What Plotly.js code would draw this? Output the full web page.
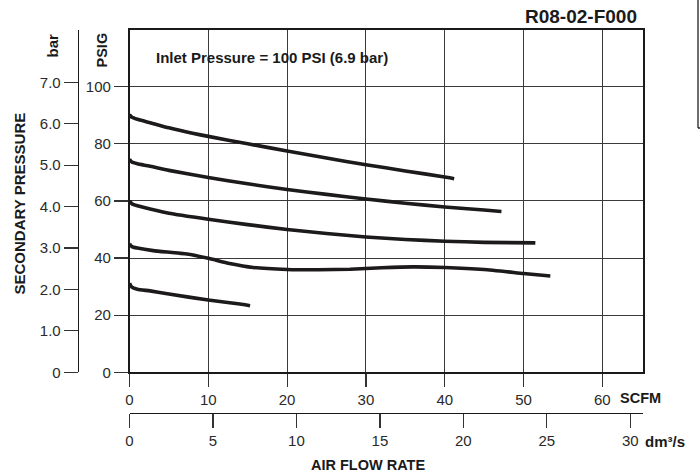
<!DOCTYPE html>
<html>
<head>
<meta charset="utf-8">
<script src="https://cdn.plot.ly/plotly-3.0.1.min.js"></script>
<style>html,body{margin:0;padding:0;background:#fff;}#chart{width:700px;height:473px;}</style>
</head>
<body>
<div id="chart"></div>
<script>
// Air flow (SCFM) and secondary pressure (PSIG) for each regulator setting
const scfm1 = [0, 0.3, 1, 2.5, 5, 8, 10, 15, 20, 25, 30, 35, 40, 41.2];
const psig1 = [90.2, 89.3, 88.6, 87.5, 85.6, 83.7, 82.6, 80.0, 77.5, 75.0, 72.7, 70.5, 68.4, 67.8];

const scfm2 = [0, 0.3, 1, 2.5, 5, 10, 15, 20, 25, 30, 35, 40, 45, 47.2];
const psig2 = [74.6, 73.6, 73.0, 72.2, 70.7, 68.2, 66.0, 64.0, 62.3, 60.7, 59.2, 57.9, 56.8, 56.3];

const scfm3 = [0, 0.3, 1, 2.5, 5, 10, 15, 20, 25, 30, 35, 40, 45, 51.5];
const psig3 = [60.0, 59.0, 58.3, 57.3, 55.7, 53.6, 51.7, 50.0, 48.6, 47.4, 46.5, 45.9, 45.5, 45.3];

const scfm4 = [0, 0.3, 1, 3, 7.3, 10, 12.7, 15.7, 20, 24, 28, 32, 36, 40, 45, 50, 53.4];
const psig4 = [45.0, 44.0, 43.5, 42.6, 41.4, 39.9, 38.1, 36.7, 36.0, 35.9, 36.1, 36.6, 36.9, 36.7, 36.0, 34.6, 33.7];

const scfm5 = [0, 0.3, 1, 2.6, 5, 10, 14, 15.3];
const psig5 = [31.2, 29.8, 29.1, 28.5, 27.4, 25.3, 23.9, 23.3];

// Tick labels
const scfmTicks = [0, 10, 20, 30, 40, 50, 60];
const dm3Ticks = [0, 5, 10, 15, 20, 25, 30];
const psigTicks = [0, 20, 40, 60, 80, 100];
const barTicks = [0, 1, 2, 3, 4, 5, 6, 7];
const barTickText = ["0", "1.0", "2.0", "3.0", "4.0", "5.0", "6.0", "7.0"];

const FONT = "Liberation Sans, Arial, sans-serif";
const curveStyle = {color: "#1c1a1a", width: 3.6, shape: "spline", smoothing: 0.5};

const series = [[scfm1, psig1], [scfm2, psig2], [scfm3, psig3], [scfm4, psig4], [scfm5, psig5]];
const traces = series.map(s => ({
  x: s[0], y: s[1], type: "scatter", mode: "lines",
  line: curveStyle, hoverinfo: "skip", showlegend: false, xaxis: "x", yaxis: "y"
}));
// empty trace so the secondary axes exist
traces.push({x: [], y: [], type: "scatter", mode: "lines", xaxis: "x2", yaxis: "y2", showlegend: false});

const xd = [0.10384, 1];
const tickFont = {family: FONT, size: 15, color: "#2a2a2a"};

const layout = {
  width: 700, height: 473,
  margin: {l: 70, r: 57, t: 30, b: 30},
  paper_bgcolor: "#fff", plot_bgcolor: "#fff",
  font: {family: FONT, color: "#1a1a1a"},
  showlegend: false,
  xaxis: {
    domain: xd, range: [0, 65.16], anchor: "y",
    tickvals: scfmTicks, ticks: "outside", ticklen: 13, tickwidth: 1.2, tickcolor: "#333",
    showline: true, mirror: true, linecolor: "#1a1a1a", linewidth: 1.6,
    showgrid: true, gridcolor: "#3a3a3a", gridwidth: 1.1, zeroline: false,
    tickfont: tickFont, fixedrange: true
  },
  yaxis: {
    domain: [0.17119, 1], range: [0, 119.85], anchor: "x",
    tickvals: psigTicks, ticks: "outside", ticklen: 14, tickwidth: 1.2, tickcolor: "#333",
    showline: true, mirror: true, linecolor: "#1a1a1a", linewidth: 1.6,
    showgrid: true, gridcolor: "#3a3a3a", gridwidth: 1.1, zeroline: false,
    tickfont: tickFont, fixedrange: true
  },
  xaxis2: {
    overlaying: "x", anchor: "free", position: 0.0734, side: "bottom",
    domain: xd, range: [0, 30.76],
    tickvals: dm3Ticks, ticks: "outside", ticklen: 14, tickwidth: 1.2, tickcolor: "#333",
    showline: true, linecolor: "#1a1a1a", linewidth: 1.6,
    showgrid: false, zeroline: false, tickfont: tickFont, fixedrange: true
  },
  yaxis2: {
    overlaying: "y", anchor: "free", position: 0.01344, side: "left",
    range: [0, 8.263],
    tickvals: barTicks, ticktext: barTickText, ticks: "outside", ticklen: 14, tickwidth: 1.2, tickcolor: "#333",
    showline: true, linecolor: "#1a1a1a", linewidth: 1.6,
    showgrid: false, zeroline: false, tickfont: tickFont, fixedrange: true
  },
  annotations: [
    {text: "<b>R08-02-F000</b>", xref: "paper", yref: "paper", x: 0.993, y: 1.032, xanchor: "right", yanchor: "middle", showarrow: false, font: {family: FONT, size: 19, color: "#1a1a1a"}},
    {text: "<b>Inlet Pressure = 100 PSI (6.9 bar)</b>", xref: "paper", yref: "paper", x: 0.1466, y: 0.9346, xanchor: "left", yanchor: "middle", showarrow: false, font: {family: FONT, size: 15, color: "#1a1a1a"}},
    {text: "<b>PSIG</b>", xref: "paper", yref: "paper", x: 0.0567, y: 0.9516, textangle: -90, xanchor: "center", yanchor: "middle", showarrow: false, font: {family: FONT, size: 14.5, color: "#1a1a1a"}},
    {text: "<b>bar</b>", xref: "paper", yref: "paper", x: -0.0305, y: 0.9613, textangle: -90, xanchor: "center", yanchor: "middle", showarrow: false, font: {family: FONT, size: 15, color: "#1a1a1a"}},
    {text: "<b>SECONDARY PRESSURE</b>", xref: "paper", yref: "paper", x: -0.0873, y: 0.5799, textangle: -90, xanchor: "center", yanchor: "middle", showarrow: false, font: {family: FONT, size: 15, color: "#1a1a1a"}},
    {text: "<b>SCFM</b>", xref: "paper", yref: "paper", x: 0.9569, y: 0.109, xanchor: "left", yanchor: "middle", showarrow: false, font: {family: FONT, size: 14.5, color: "#1a1a1a"}},
    {text: "<b>dm³/s</b>", xref: "paper", yref: "paper", x: 0.9995, y: 0.0048, xanchor: "left", yanchor: "middle", showarrow: false, font: {family: FONT, size: 15, color: "#1a1a1a"}},
    {text: "<b>AIR FLOW RATE</b>", xref: "paper", yref: "paper", x: 0.5206, y: -0.0533, xanchor: "center", yanchor: "middle", showarrow: false, font: {family: FONT, size: 14.5, color: "#1a1a1a"}}
  ],
  shapes: [
    {type: "line", xref: "paper", yref: "paper", x0: 1.096, x1: 1.096, y0: 1.0727, y1: 0.7627, line: {color: "#222", width: 1.3}},
    {type: "line", xref: "paper", yref: "paper", x0: 1.096, x1: 1.11, y0: 0.7627, y1: 0.7627, line: {color: "#222", width: 1.3}}
  ]
};

Plotly.newPlot("chart", traces, layout, {displayModeBar: false, staticPlot: true});
</script>
</body>
</html>
